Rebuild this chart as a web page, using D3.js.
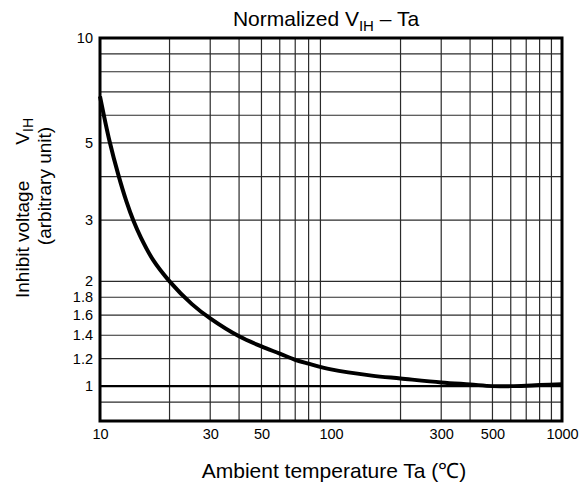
<!DOCTYPE html>
<meta charset="utf-8">
<style>
  body { margin: 0; background: #fff; }
  text { font-family: "Liberation Sans", Arial, sans-serif; fill: #000; }
  .grid line { stroke: #2b2b2b; stroke-width: 1.2px; }
  .tick text { font-size: 14.5px; }
  .curve { fill: none; stroke: #000; stroke-width: 4px; }
</style>
<script src="https://cdn.jsdelivr.net/npm/d3@7"></script>
<svg id="chart" width="581" height="486"></svg>
<script>
// curve (Ta in degC, normalized VIH)
var temps = [10, 11, 12, 13, 14, 15, 17, 20, 25, 30, 40, 50, 60, 70, 80, 100, 150, 200, 300, 400, 500, 600, 700, 800, 1000];
var vih   = [6.8, 5.05, 4.05, 3.4, 2.97, 2.68, 2.3, 2.0, 1.72, 1.565, 1.39, 1.30, 1.24, 1.19, 1.16, 1.117, 1.072, 1.052, 1.025, 1.011, 1.0, 1.0, 1.003, 1.007, 1.013];

var xGrid = [20, 30, 40, 50, 60, 70, 80, 90, 200, 300, 400, 500, 600, 700, 800, 900];
var yGrid = [0.9, 1.2, 1.4, 1.6, 1.8, 2, 3, 4, 5, 6, 7, 8, 9];
var xTicks = [10, 30, 50, 100, 300, 500, 1000];
var yTicks = [1, 1.2, 1.4, 1.6, 1.8, 2, 3, 5, 10];

var margin = {top: 38, right: 19, bottom: 65, left: 100};
var width = 581 - margin.left - margin.right;
var height = 486 - margin.top - margin.bottom;

var svg = d3.select('#chart');
var g = svg.append('g').attr('transform', 'translate(' + margin.left + ',' + margin.top + ')');

var x = d3.scaleLog().domain([10, 1000]).range([0, width]);
var y = d3.scaleLog().domain([0.794, 10]).range([height, 0]);

// grid
var grid = g.append('g').attr('class', 'grid');
grid.selectAll('.gx').data(xGrid).enter().append('line')
  .attr('x1', function(d){ return x(d); }).attr('x2', function(d){ return x(d); })
  .attr('y1', 0).attr('y2', height);
grid.selectAll('.gy').data(yGrid).enter().append('line')
  .attr('y1', function(d){ return y(d); }).attr('y2', function(d){ return y(d); })
  .attr('x1', 0).attr('x2', width);
// reference line at 1
g.append('line')
  .attr('x1', 0).attr('x2', width)
  .attr('y1', y(1)).attr('y2', y(1))
  .attr('stroke', '#000').attr('stroke-width', 2.2);

// axes (labels only)
var xAxis = d3.axisBottom(x).tickValues(xTicks).tickSize(0).tickPadding(8)
  .tickFormat(d3.format('d'));
g.append('g').attr('transform', 'translate(0,' + height + ')').call(xAxis)
  .call(function(s){ s.select('.domain').remove(); });

var yAxis = d3.axisLeft(y).tickValues(yTicks).tickSize(0).tickPadding(7)
  .tickFormat(function(d){ return d; });
g.append('g').call(yAxis)
  .call(function(s){ s.select('.domain').remove(); });
g.selectAll('.tick text').attr('fill', '#000');

// curve
var line = d3.line()
  .x(function(d){ return x(d[0]); })
  .y(function(d){ return y(d[1]); })
  .curve(d3.curveCatmullRom.alpha(0.5));
g.append('path').datum(d3.zip(temps, vih)).attr('class', 'curve').attr('d', line);

// frame
g.append('rect').attr('x', 0).attr('y', 0).attr('width', width).attr('height', height)
  .attr('fill', 'none').attr('stroke', '#000').attr('stroke-width', 3);

// title
var t = svg.append('text').attr('x', 326).attr('y', 26)
  .attr('text-anchor', 'middle').style('font-size', '21px');
t.append('tspan').text('Normalized V');
t.append('tspan').attr('dy', 5).style('font-size', '15px').text('IH');
t.append('tspan').attr('dy', -5).text(' \u2013 Ta');

// x title
svg.append('text').attr('x', 334).attr('y', 478)
  .attr('text-anchor', 'middle').style('font-size', '21px')
  .text('Ambient temperature Ta (\u2103)');

// y title (two lines)
svg.append('text').attr('transform', 'translate(29,298) rotate(-90)')
  .attr('text-anchor', 'start').style('font-size', '19px')
  .text('Inhibit voltage');
var vl = svg.append('text').attr('transform', 'translate(29,118) rotate(-90)')
  .attr('text-anchor', 'end').style('font-size', '19px');
vl.append('tspan').text('V');
vl.append('tspan').attr('dy', 4).style('font-size', '14px').text('IH');
svg.append('text').attr('transform', 'translate(51,186) rotate(-90)')
  .attr('text-anchor', 'middle').style('font-size', '19px')
  .text('(arbitrary unit)');
</script>
